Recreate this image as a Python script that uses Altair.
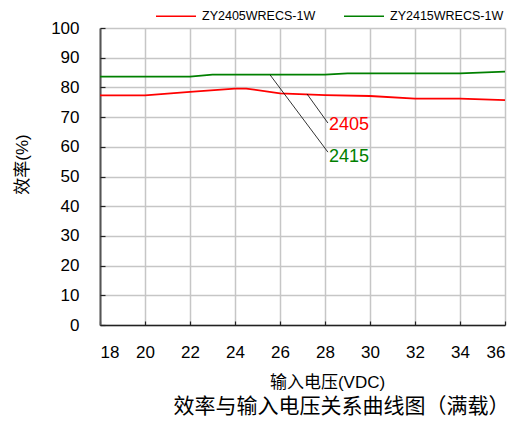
import altair as alt
import pandas as pd

FONT = "Liberation Sans, Arial, Noto Sans CJK SC"

voltage_red = [18, 20, 22, 24, 24.5, 26, 28, 30, 32, 34, 36]
eff_2405 = [77.3, 77.3, 78.5, 79.6, 79.6, 78.0, 77.4, 77.1, 76.2, 76.2, 75.7]
voltage_green = [18, 20, 22, 23, 24, 26, 28, 29, 30, 32, 34, 36]
eff_2415 = [83.6, 83.6, 83.6, 84.3, 84.3, 84.3, 84.3, 84.7, 84.7, 84.7, 84.7, 85.3]

series_names = ["ZY2405WRECS-1W", "ZY2415WRECS-1W"]
series_colors = ["#ff0000", "#008000"]

# callout labels and leader lines
callout_text = ["2405", "2415"]
callout_colors = ["#ff0000", "#008000"]
callout_x_from = [27.2, 25.56]
callout_y_from = [77.8, 84.2]
callout_x_to = [28.13, 28.13]
callout_y_to = [68.0, 58.2]
callout_label_y = [67.2, 56.6]

x_ticks = list(range(18, 37, 2))
y_ticks = list(range(0, 101, 10))

rows = []
for v, e in zip(voltage_red, eff_2405):
    rows.append({"v": v, "eff": e, "series": series_names[0]})
for v, e in zip(voltage_green, eff_2415):
    rows.append({"v": v, "eff": e, "series": series_names[1]})
df = pd.DataFrame(rows)

ann = pd.DataFrame({
    "text": callout_text, "color": callout_colors,
    "x1": callout_x_from, "y1": callout_y_from,
    "x2": callout_x_to, "y2": callout_y_to, "ly": callout_label_y,
})

xscale = alt.Scale(domain=[18, 36], nice=False, zero=False)
yscale = alt.Scale(domain=[0, 100], nice=False)

lines = alt.Chart(df).mark_line(strokeWidth=1.8, interpolate="linear").encode(
    x=alt.X("v:Q", scale=xscale, axis=alt.Axis(
        values=x_ticks, title="输入电压(VDC)", ticks=False, labelOverlap=False,
        labelPadding=19, labelFontSize=17, labelFont=FONT, labelColor="#000",
        titleFont=FONT, titleFontSize=17, titleFontWeight="normal", titleColor="#000",
        titleX=227, titleY=57, titleBaseline="middle",
        grid=True, gridColor="#c6c6c6", gridWidth=1.5,
        domainColor="#222", domainWidth=1.5)),
    y=alt.Y("eff:Q", scale=yscale, axis=alt.Axis(
        values=y_ticks, title="效率(%)", ticks=False, labelOverlap=False,
        labelPadding=21, labelFontSize=17, labelFont=FONT, labelColor="#000",
        titleFont=FONT, titleFontSize=17, titleFontWeight="normal", titleColor="#000",
        titleX=-78, titleY=136, titleBaseline="middle",
        grid=True, gridColor="#c6c6c6", gridWidth=1.5,
        domainColor="#555", domainWidth=2)),
    color=alt.Color("series:N", scale=alt.Scale(domain=series_names, range=series_colors),
                    legend=alt.Legend(
                        title=None, orient="none", legendX=55, legendY=-33,
                        direction="horizontal", symbolType="stroke", symbolSize=1600,
                        symbolStrokeWidth=1.5, labelFont=FONT, labelFontSize=12.5,
                        labelColor="#000", labelOffset=5, columnPadding=25)),
)

leaders = alt.Chart(ann).mark_rule(color="#000", strokeWidth=0.8).encode(
    x=alt.X("x1:Q", scale=xscale, axis=None), y=alt.Y("y1:Q", scale=yscale, axis=None),
    x2="x2:Q", y2="y2:Q",
)

labels = alt.Chart(ann).mark_text(align="left", baseline="middle", fontSize=18, font=FONT, dx=1).encode(
    x=alt.X("x2:Q", scale=xscale, axis=None), y=alt.Y("ly:Q", scale=yscale, axis=None),
    text="text:N", color=alt.Color("color:N", scale=None),
)

# inward ticks drawn by mirrored axes
tick_layer = alt.Chart(df).mark_point(opacity=0).encode(
    x=alt.X("v:Q", scale=xscale, axis=alt.Axis(
        orient="top", offset=-297, values=x_ticks, labels=False, domain=False,
        grid=False, title=None, tickSize=4, tickColor="#222", tickWidth=1.2)),
    y=alt.Y("eff:Q", scale=yscale, axis=alt.Axis(
        orient="right", offset=-405, values=y_ticks, labels=False, domain=False,
        grid=False, title=None, tickSize=5, tickColor="#222", tickWidth=1.2)),
)

chart = alt.layer(lines, leaders, labels, tick_layer).resolve_axis(x="independent", y="independent").properties(
    width=405, height=297,
    autosize=alt.AutoSizeParams(type="none"),
    padding={"left": 92, "top": 20, "right": 8, "bottom": 93},
    title=alt.TitleParams(
        text="效率与输入电压关系曲线图（满载）", orient="bottom", anchor="middle",
        font="Noto Sans CJK SC", fontSize=21, fontWeight="normal", color="#000",
        dx=39, offset=6),
).configure_view(stroke=None)

chart.save("out.html", embed_options={"renderer": "svg", "actions": False})
